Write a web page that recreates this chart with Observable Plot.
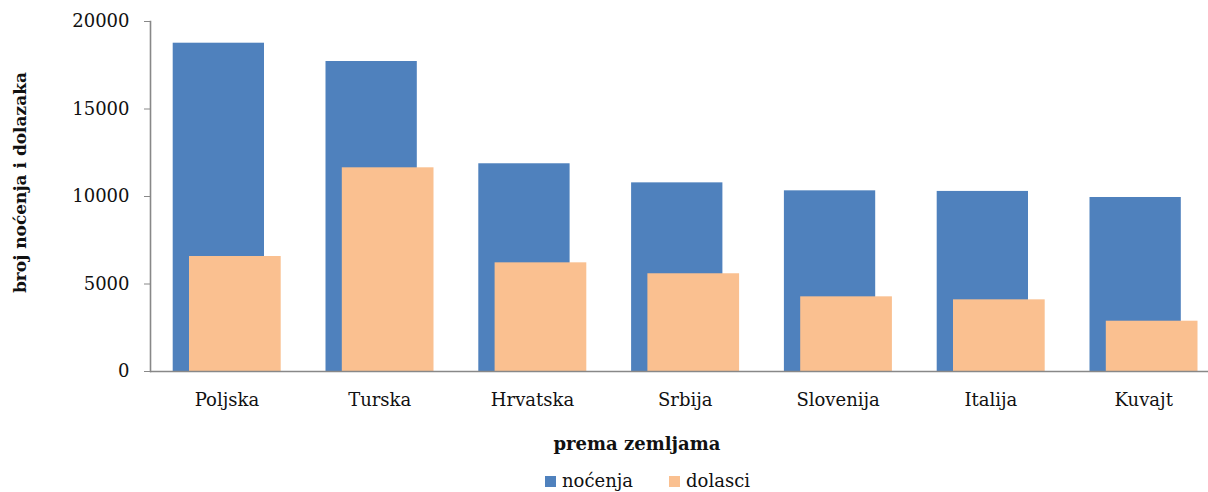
<!DOCTYPE html>
<html>
<head>
<meta charset="utf-8">
<script src="https://cdn.jsdelivr.net/npm/d3@7"></script>
<script src="https://cdn.jsdelivr.net/npm/@observablehq/plot@0.6"></script>
<style>
  html, body { margin: 0; padding: 0; background: #fff; }
  body { width: 1208px; height: 492px; position: relative; overflow: hidden; font-family: "DejaVu Serif", serif; }
  #chart svg { display: block; }
  .legend { position: absolute; left: 545px; top: 470px; height: 22px; display: flex; align-items: center; font-size: 18px; line-height: 22px; color: #111; }
  .legend .sw { width: 11px; height: 11px; display: inline-block; margin-right: 6px; }
  .legend .item { display: flex; align-items: center; margin-right: 36px; }
</style>
</head>
<body>
<div id="chart"></div>
<div class="legend">
  <span class="item"><span class="sw" style="background:#4F81BD"></span>noćenja</span>
  <span class="item"><span class="sw" style="background:#FAC090"></span>dolasci</span>
</div>
<script>
const countries = ["Poljska", "Turska", "Hrvatska", "Srbija", "Slovenija", "Italija", "Kuvajt"];
const nocenja = [18760, 17714, 11870, 10780, 10324, 10290, 9943];
const dolasci = [6571, 11640, 6210, 5585, 4267, 4095, 2874];
const yTicks = [0, 5000, 10000, 15000, 20000];
const yLabel = "broj noćenja i dolazaka";
const xLabel = "prema zemljama";

const data = countries.map((c, i) => ({country: c, nocenja: nocenja[i], dolasci: dolasci[i]}));

const font = "DejaVu Serif";
const chart = Plot.plot({
  width: 1208,
  height: 468,
  marginTop: 21,
  marginBottom: 97,
  marginLeft: 150,
  marginRight: 0,
  style: {fontFamily: font, fontSize: "18px", color: "#111", background: "#fff"},
  x: {domain: countries, range: [150, 1219.6], padding: 0, round: false},
  y: {domain: [0, 20000]},
  marks: [
    Plot.barY(data, {x: "country", y: "nocenja", fill: "#4F81BD", insetLeft: 22.7, insetRight: 38.8}),
    Plot.barY(data, {x: "country", y: "dolasci", fill: "#FAC090", insetLeft: 39, insetRight: 22.1}),
    Plot.ruleY([0], {stroke: "#888", strokeWidth: 1.6}),
    Plot.frame({anchor: "left", stroke: "#888", strokeWidth: 1.6}),
    Plot.axisY({ticks: yTicks, tickFormat: "d", tickSize: 6, tickPadding: 15, stroke: "#888", fill: "#111", fontSize: 18, label: null}),
    Plot.axisX({tickSize: 0, tickPadding: 22, fill: "#111", fontSize: 18, label: null}),
    Plot.text([yLabel], {text: d => d, frameAnchor: "left", textAnchor: "middle", rotate: -90, dx: -130, dy: -14, fontWeight: "bold", fontSize: 17, fill: "#111"}),
    Plot.text([xLabel], {text: d => d, frameAnchor: "bottom", textAnchor: "middle", dx: -42.5, dy: 78, fontWeight: "bold", fontSize: 18, fill: "#111"})
  ]
});
document.getElementById("chart").appendChild(chart);
</script>
</body>
</html>
